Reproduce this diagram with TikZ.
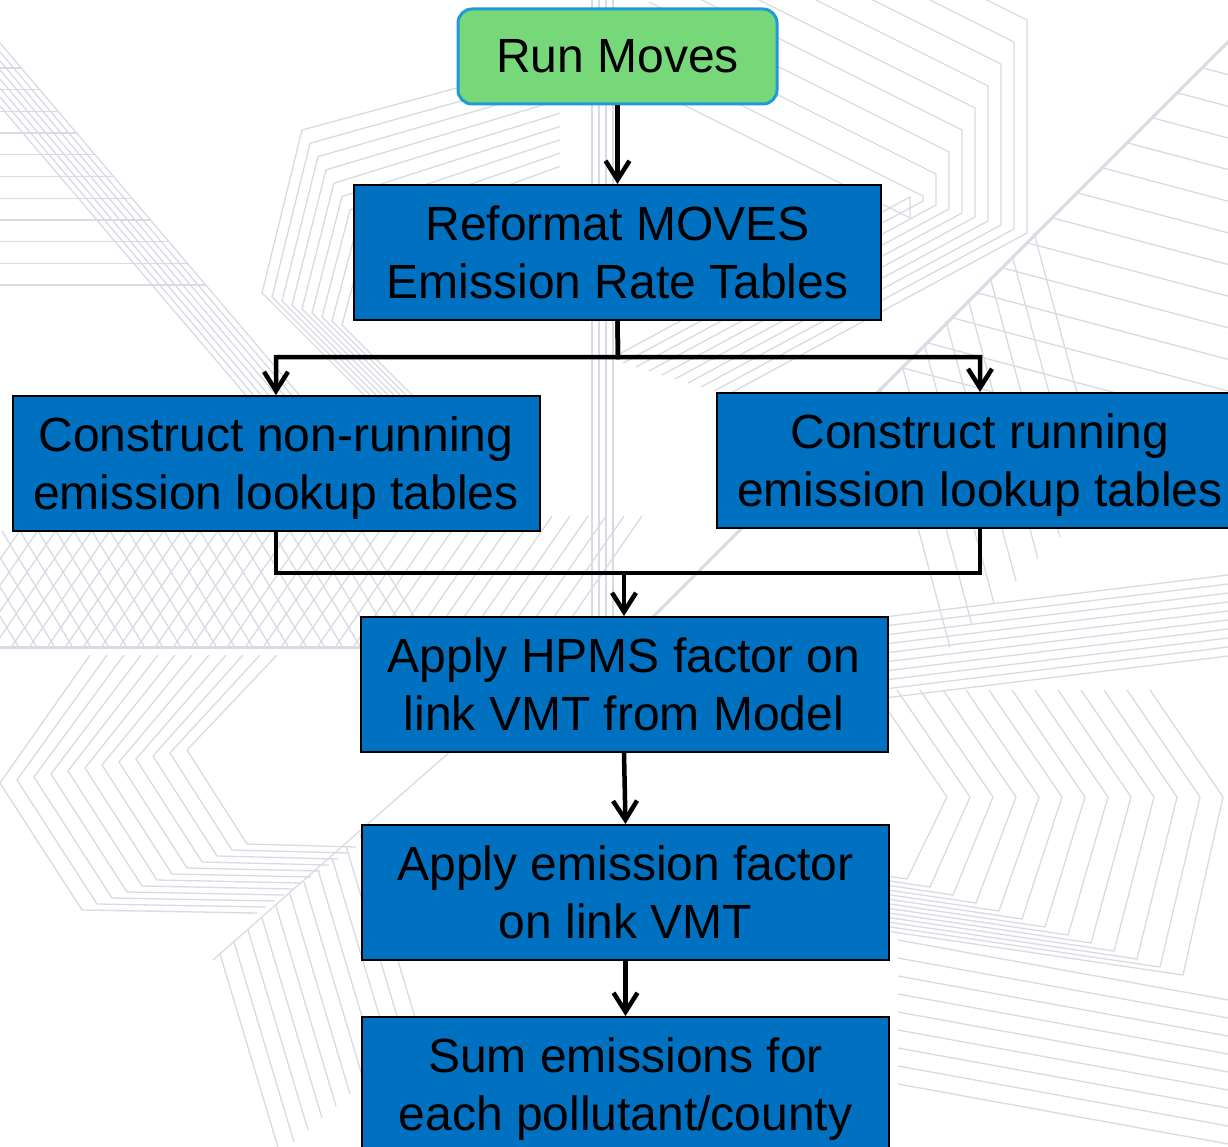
\documentclass[tikz,border=0pt]{standalone}
\usepackage{fontspec}
\setmainfont{Liberation Sans}
\usetikzlibrary{arrows.meta}
\definecolor{boxblue}{RGB}{0,112,192}
\definecolor{startgreen}{RGB}{119,216,122}
\definecolor{startedge}{RGB}{30,155,215}
\definecolor{bgline}{RGB}{218,218,228}
\begin{document}
\begin{tikzpicture}[x=1pt,y=-1pt,
  box/.style={draw=black, line width=2pt, fill=boxblue, minimum width=527pt,
    minimum height=135pt, align=center, inner sep=0pt, text depth=0pt,
    font=\fontsize{48}{58}\selectfont},
  startbox/.style={draw=startedge, line width=3pt, fill=startgreen,
    rounded corners=14pt, minimum width=319pt, minimum height=95pt,
    inner sep=0pt, font=\fontsize{48}{58}\selectfont},
  conn/.style={line width=4.5pt, draw=black, line join=miter},
  arr/.style={conn, -{Straight Barb[length=19pt,width=24pt,line width=4.5pt]}},
  bg/.style={draw=bgline, line width=1.3pt},
  bgthick/.style={draw=bgline, line width=3pt}]

\useasboundingbox (0,0) rectangle (1228,1147);
\clip (0,0) rectangle (1228,1147);
\fill[white] (0,0) rectangle (1228,1147);

% ---------- decorative background ----------
% top-left staircase
\foreach \i in {0,...,7} \draw[bg] (0,43+9*\i) -- ++(340,400);
\foreach \k in {0,...,10} \draw[bg] (0,68+21.7*\k) -- ({0.85*(25+21.7*\k)},68+21.7*\k);
% chevrons left of the second box
\foreach \i in {0,...,8} \draw[bg] (560,60+13.3*\i) -- (302+8*\i,130+13.3*\i) -- (262+10*\i,293+4*\i) -- ++(110,110);
% top-right nested corners
\foreach \i in {0,...,9} \draw[bg] (1027-13*\i-300,20+22*\i-150) -- (1027-13*\i,20+22*\i) -- (1027-13*\i,233-4*\i) -- ++(-300,162);
% big diagonal top right with its rungs
\draw[bgthick] (1270,0) -- (560,710);
\foreach \j in {0,...,14} \draw[bg] (1228-25*\j,43+25*\j) -- ++(320,85);
\foreach \j in {0,...,7} \draw[bg] (880+22*\j,387-22*\j) -- ++(70,260);
% vertical light band in the middle
\foreach \i in {0,...,3} \draw[bg] (592+7*\i,0) -- (592+7*\i,620);
% cross-hatching above the horizontal line on the left
\foreach \j in {0,...,34} \draw[bg] (18*\j-60,646) -- ++(90,-130);
\foreach \j in {0,...,24} \draw[bg] (18*\j,646) -- ++(-70,-115);
\draw[bgthick] (0,647) -- (620,647);
% bottom-left chevrons pointing left
\foreach \i in {0,...,11} \draw[bg] (90+17*\i,655) -- (17*\i,783-3*\i) -- (82+15*\i,910-6*\i) -- (257+9*\i,913-6*\i);
% bottom-left diagonal with descending lines
\draw[bg] (213,960) -- (560,655);
\foreach \i in {0,...,10} \draw[bg] (220+14*\i,954-12*\i) -- ++(60,200);
% right band of near-horizontal lines
\foreach \j in {0,...,9} \draw[bg] (860,620+9*\j) -- (1228,575+9*\j);
% bottom-right chevrons pointing right
\foreach \i in {0,...,12} \draw[bg] (1150-23*\i,690) -- (1223-23*\i,797) -- (1183-23*\i,975-8*\i) -- (880-23*\i,930-8*\i);
\foreach \i in {0,...,8} \draw[bg] (1228,1000+18*\i) -- ++(-330,-60) ;

% ---------- diagram ----------
\node[startbox] (run) at (617.5,56.5) {Run Moves};
\node[box] (reformat) at (617.5,252.5) {Reformat MOVES\\Emission Rate Tables};
\node[box] (nonrun) at (276,463.5) {Construct non-running\\emission lookup tables};
\node[box] (running) at (980,460.5) {Construct running\\emission lookup tables};
\node[box] (hpms) at (624,684.5) {Apply HPMS factor on\\link VMT from Model};
\node[box] (emis) at (625.5,892.5) {Apply emission factor\\on link VMT};
\node[box] (sum) at (625.5,1084.5) {Sum emissions for\\each pollutant/county};

\coordinate (split) at (618,357);
\coordinate (join) at (624,573);

\draw[arr] (run) -- (reformat);
\draw[arr] (reformat.south) -- (split) -| (nonrun.north);
\draw[arr] (reformat.south) -- (split) -| (running.north);
\draw[arr] (nonrun.south) |- (join) -- (hpms.north);
\draw[conn] (running.south) |- (join);
\draw[arr] (hpms.south) -- (emis.north);
\draw[arr] (emis) -- (sum);
\end{tikzpicture}
\end{document}
